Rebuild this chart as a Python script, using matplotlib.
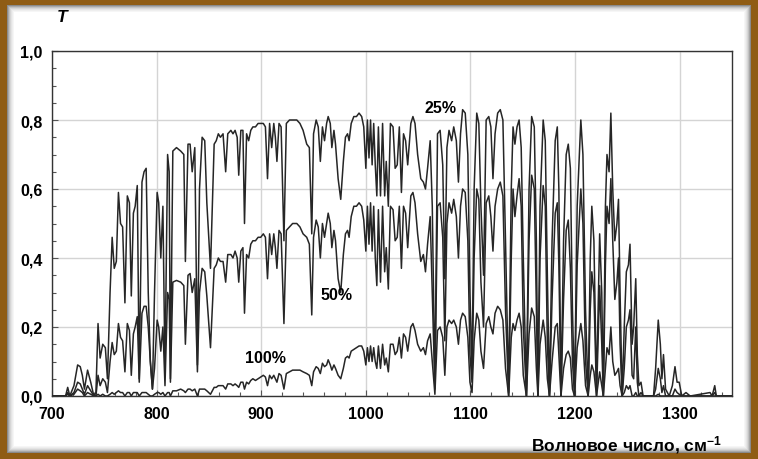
import matplotlib
matplotlib.use("Agg")
import matplotlib.pyplot as plt
from matplotlib.patches import Rectangle
from matplotlib.ticker import MultipleLocator, FuncFormatter

# wavenumber, cm-1 (same grid for the three curves)
wn = [
    700, 710, 713, 715, 717, 721, 724.5, 727, 729, 731,
    734, 737, 740, 742, 744, 746, 748.5, 751, 753, 755.5,
    757.5, 759.5, 761.5, 763.5, 765.5, 767.5, 769.7, 772, 774, 775.8,
    777.8, 779.5, 781.5, 783.4, 786, 788, 790, 792, 794, 796,
    798, 800.5, 802, 804, 806, 808, 810.5, 812, 813.2, 815.5,
    819, 823, 826, 827.5, 830, 832, 834, 836.5, 839, 841,
    843.5, 846, 848, 851.5, 855, 857, 859, 861, 863.5, 866,
    868, 871, 873, 875, 877, 878.5, 880.5, 882.5, 884, 886,
    888, 890, 892, 894.5, 897, 899.5, 902, 904, 906, 908,
    910, 912, 913.5, 915, 917, 919, 921.7, 924, 927, 930,
    934, 937, 940, 943.5, 946, 948.3, 950, 952.5, 954.5, 956.5,
    958.5, 960.5, 962.5, 964, 966, 967.5, 969.5, 971, 973.5, 976,
    978.5, 980.5, 982.5, 984, 986, 988.5, 991, 993.5, 996, 998,
    1000, 1001.5, 1003, 1004.5, 1006, 1007.5, 1009, 1010.5, 1012, 1014,
    1016, 1018, 1019.5, 1021.5, 1023.5, 1026, 1028, 1030, 1032, 1034,
    1036, 1038, 1040, 1043, 1045, 1047, 1049.5, 1052.5, 1055, 1057,
    1059, 1061.5, 1063.5, 1066, 1068.5, 1071, 1073.5, 1075.5, 1077.5, 1079.5,
    1082, 1084, 1086.5, 1088.5, 1090.5, 1092.5, 1095, 1097.5, 1099.5, 1101.5,
    1103.5, 1106, 1108, 1110, 1112.5, 1115, 1117.5, 1119.5, 1121.5, 1123.5,
    1126, 1128.5, 1131, 1133.5, 1136.5, 1139, 1140.7, 1142.5, 1144.5, 1146.5,
    1148.5, 1150.5, 1153.5, 1156, 1158.5, 1161, 1163, 1164.5, 1166.5, 1169.5,
    1171.5, 1173.5, 1175.5, 1178, 1181, 1183, 1184.5, 1186.5, 1189, 1191.5,
    1193.5, 1195.5, 1197.5, 1199.5, 1202, 1205.5, 1207.5, 1210, 1212.5, 1214.5,
    1216, 1218, 1220.5, 1223.5, 1225.5, 1227, 1229, 1230.5, 1232.5, 1234.2,
    1236, 1238, 1240, 1241.5, 1243, 1245, 1247, 1249, 1251, 1252.5,
    1254.5, 1256, 1258, 1259.5, 1261, 1263, 1265, 1275, 1277, 1279.5,
    1281.5, 1283, 1284.5, 1286.5, 1290, 1293, 1295.5, 1297.5, 1299.5, 1302,
    1306, 1310, 1329, 1331, 1333.5, 1335, 1350,
]

# transmission, 25 %
t25 = [
    0, 0, 0, .025, 0, .03, .09, .085, .06, .02,
    .075, .04, 0, .01, .21, .11, .15, .14, .05, .30,
    .46, .37, .39, .59, .50, .49, .27, .58, .56, .29,
    .53, .55, .61, .05, .62, .65, .66, .30, .10, .02,
    .30, .59, .56, .40, .55, .07, .70, .65, .05, .71,
    .72, .71, .70, .39, .73, .73, .65, .72, .09, .60,
    .75, .74, .56, .37, .73, .74, .76, .75, .76, .65,
    .76, .77, .76, .77, .75, .64, .77, .77, .50, .76,
    .74, .77, .78, .78, .79, .79, .79, .78, .63, .79,
    .72, .79, .75, .68, .79, .78, .45, .79, .80, .80,
    .80, .79, .77, .73, .72, .47, .76, .80, .78, .68,
    .78, .74, .79, .81, .79, .72, .77, .73, .63, .57,
    .68, .75, .76, .74, .79, .81, .81, .82, .81, .78,
    .66, .80, .69, .80, .67, .79, .67, .58, .78, .58,
    .79, .58, .68, .55, .79, .78, .66, .67, .78, .59,
    .76, .74, .67, .79, .81, .79, .70, .63, .62, .60,
    .66, .74, .55, .03, .76, .77, .67, .34, .72, .77,
    .74, .78, .74, .62, .76, .83, .82, .70, .30, .07,
    .60, .82, .79, .55, .35, .80, .81, .78, .63, .76,
    .82, .83, .80, .45, .01, .60, .78, .73, .78, .80,
    .72, .40, 0, .60, .81, .78, .45, 0, .55, .80,
    .74, .35, 0, .45, .74, .78, .60, 0, .45, .70,
    .73, .66, .25, 0, .55, .80, .70, .25, 0, .40,
    .55, .45, .02, .47, .30, 0, .55, .70, .65, .82,
    .60, .45, .50, .57, .30, 0, .20, .36, .38, .44,
    .15, .20, .34, .12, .03, .04, 0, 0, .08, .22,
    .15, .05, .12, .02, 0, .03, .085, .04, .04, 0,
    .01, 0, .01, 0, .03, 0, 0,
]

# transmission, 50 %
t50 = [
    0, 0, 0, .01, 0, .01, .04, .035, .02, .005,
    .03, .015, 0, 0, .06, .03, .05, .04, .01, .10,
    .155, .12, .13, .21, .17, .16, .07, .21, .19, .06,
    .18, .20, .23, .04, .24, .26, .26, .20, .10, .02,
    .08, .22, .20, .13, .20, .03, .30, .28, .04, .33,
    .335, .33, .32, .15, .35, .355, .30, .34, .07, .30,
    .37, .36, .29, .14, .37, .38, .40, .39, .39, .33,
    .41, .41, .40, .42, .40, .33, .42, .43, .24, .41,
    .40, .44, .45, .45, .46, .46, .47, .46, .34, .47,
    .41, .47, .43, .37, .48, .47, .21, .48, .49, .50,
    .50, .49, .47, .46, .44, .235, .46, .51, .49, .40,
    .50, .46, .50, .53, .50, .43, .48, .45, .34, .30,
    .41, .47, .48, .46, .52, .55, .55, .56, .55, .51,
    .42, .55, .44, .56, .42, .55, .40, .32, .54, .33,
    .55, .36, .43, .31, .55, .54, .45, .46, .55, .37,
    .55, .53, .43, .58, .59, .56, .47, .39, .41, .36,
    .44, .52, .30, .02, .55, .56, .46, .16, .50, .56,
    .53, .57, .52, .40, .55, .60, .59, .45, .12, .04,
    .40, .60, .57, .33, .20, .56, .58, .52, .42, .55,
    .60, .62, .58, .25, 0, .40, .60, .52, .58, .63,
    .55, .20, 0, .45, .64, .60, .25, 0, .40, .61,
    .55, .15, 0, .28, .53, .56, .38, 0, .28, .48,
    .51, .37, .10, 0, .38, .60, .50, .10, 0, .25,
    .36, .30, 0, .32, .15, 0, .38, .55, .50, .63,
    .45, .28, .33, .40, .15, 0, .08, .20, .22, .25,
    .06, .05, .20, .04, 0, .01, 0, 0, .02, .08,
    .05, .01, .03, 0, 0, 0, .02, .01, .005, 0,
    0, 0, 0, 0, .01, 0, 0,
]

# transmission, 100 %
t100 = [
    0, 0, 0, .005, 0, .005, .02, .015, .01, 0,
    .01, .005, 0, 0, .005, 0, .005, 0, 0, .005,
    .01, .005, .01, .015, .01, .01, 0, .01, .01, 0,
    .01, .01, .01, 0, .01, .01, .01, .005, 0, 0,
    .005, .01, .01, .005, .01, 0, .01, .01, 0, .015,
    .015, .02, .015, .01, .02, .02, .015, .02, 0, .02,
    .02, .02, .015, .005, .025, .025, .03, .03, .03, .02,
    .035, .035, .03, .035, .03, .025, .04, .04, .02, .04,
    .035, .045, .05, .045, .05, .055, .06, .055, .03, .06,
    .05, .06, .05, .04, .065, .06, .02, .065, .07, .075,
    .075, .075, .07, .065, .06, .03, .07, .085, .08, .065,
    .095, .085, .09, .105, .09, .075, .09, .08, .06, .05,
    .08, .11, .115, .11, .13, .135, .14, .145, .145, .13,
    .09, .14, .10, .145, .10, .14, .10, .08, .145, .08,
    .15, .09, .11, .07, .15, .15, .12, .13, .17, .11,
    .18, .17, .13, .20, .21, .19, .15, .13, .14, .12,
    .16, .18, .10, .005, .19, .20, .17, .06, .20, .22,
    .21, .22, .20, .15, .22, .24, .23, .17, .04, .01,
    .16, .24, .22, .13, .08, .21, .23, .20, .18, .24,
    .26, .25, .22, .08, 0, .17, .21, .19, .22, .24,
    .20, .06, 0, .18, .255, .23, .08, 0, .15, .22,
    .17, .05, 0, .10, .20, .21, .12, 0, .08, .12,
    .13, .11, .02, 0, .14, .21, .16, .03, 0, .06,
    .09, .07, 0, .07, .03, 0, .08, .14, .12, .20,
    .10, .06, .07, .08, .03, 0, .01, .03, .02, .03,
    0, 0, .01, 0, 0, 0, 0, 0, 0, .005,
    0, 0, 0, 0, 0, 0, 0, 0, 0, 0,
    0, 0, 0, 0, 0, 0, 0,
]

x_ticks = [700, 800, 900, 1000, 1100, 1200, 1300]
y_ticks = [0.0, 0.2, 0.4, 0.6, 0.8, 1.0]

plt.rcParams['font.family'] = ['Liberation Sans', 'DejaVu Sans']
plt.rcParams['font.weight'] = 'bold'
plt.rcParams['mathtext.fontset'] = 'custom'
plt.rcParams['mathtext.rm'] = 'Liberation Sans:bold'
plt.rcParams['mathtext.it'] = 'Liberation Sans:italic:bold'
plt.rcParams['mathtext.default'] = 'rm'

W, H = 758, 460
fig = plt.figure(figsize=(W / 100, H / 100), dpi=100)
fig.patch.set_facecolor('#8f5c14')

# inner panel with a soft shadow towards the brown frame
shades = ['#8a8a8a', '#a8a8a8', '#c2c2c2', '#d6d6d6', '#e4e4e4', '#eeeeee', '#f6f6f6', '#ffffff']
for i, c in enumerate(shades):
    x0, y0 = 7 + i, 6 + i
    fig.add_artist(Rectangle((x0 / W, y0 / H), (W - 2 * x0) / W, (H - 2 * y0) / H,
                             transform=fig.transFigure, facecolor=c, edgecolor='none', zorder=-10 + i))

ax = fig.add_axes([52 / W, 63 / H, 680 / W, 345 / H])
ax.set_facecolor('white')

ax.grid(True, color='#d4d4d4', linewidth=1.0, zorder=0)
ax.set_axisbelow(True)

for t in (t25, t50, t100):
    ax.plot(wn, t, color='#262626', linewidth=1.1, zorder=3)

ax.set_xlim(700, 1350)
ax.set_ylim(0, 1.0)
ax.set_xticks(x_ticks)
ax.set_yticks(y_ticks)
ax.xaxis.set_minor_locator(MultipleLocator(20))
ax.yaxis.set_minor_locator(MultipleLocator(0.05))
ax.yaxis.set_major_formatter(FuncFormatter(lambda v, p: f"{v:.1f}".replace('.', ',')))
ax.tick_params(which='major', direction='in', length=4, width=0.8, color='#555555',
               labelsize=11.5, pad=7)
ax.tick_params(which='minor', direction='in', length=3, width=0.8, color='#555555')
for lab in ax.get_xticklabels() + ax.get_yticklabels():
    lab.set_fontweight('bold')
for s in ax.spines.values():
    s.set_color('#333333')
    s.set_linewidth(1.0)

ax.text(1071, 0.835, "25%", fontsize=11.5, fontweight='bold', ha='center', va='center', zorder=5)
ax.text(972, 0.295, "50%", fontsize=11.5, fontweight='bold', ha='center', va='center', zorder=5)
ax.text(904, 0.113, "100%", fontsize=11.5, fontweight='bold', ha='center', va='center', zorder=5)

fig.text(62 / W, 1 - 17 / H, "T", fontsize=12.5, fontweight='bold', style='italic',
         ha='center', va='center')
fig.text(722 / W, 1 - 445 / H, "Волновое число, см$^{-1}$", fontsize=12.5,
         fontweight='bold', ha='right', va='center')

fig.savefig("out.png", dpi=100, facecolor=fig.get_facecolor())
